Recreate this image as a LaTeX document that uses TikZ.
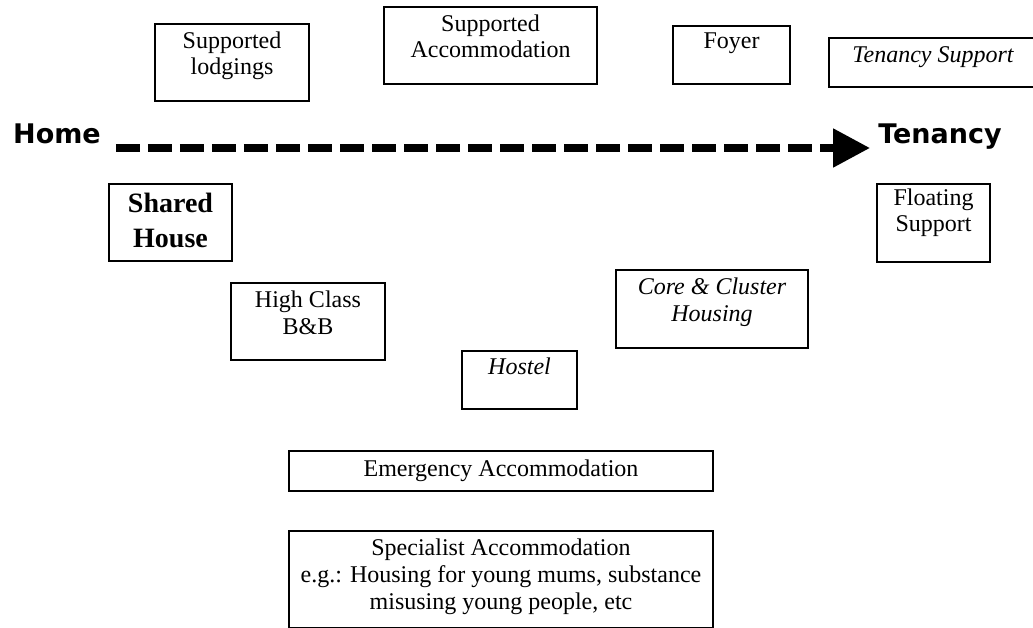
\documentclass[tikz,border=0pt]{standalone}
\usepackage{fontspec}
\setmainfont{Liberation Serif}
\newfontfamily\headfont{DejaVu Sans}
\usepackage{tikz}
\usetikzlibrary{arrows.meta}

\begin{document}
\begin{tikzpicture}[x=1pt,y=-1pt,
   font=\fontsize{24}{26.5}\selectfont,
   box/.style={draw,line width=2pt,inner sep=0pt,anchor=north,align=center},
   endlabel/.style={inner sep=0pt,anchor=base,font=\headfont\bfseries\fontsize{27}{30}\selectfont},
   flow/.style={line width=8pt,dash pattern=on 24pt off 8pt,
                -{Triangle[length=37pt,width=37pt]}}]
  \useasboundingbox (0,0) rectangle (1033,628);
  % the two ends of the pathway
  \node[endlabel] (home) at (57,144) {Home};
  \node[endlabel] (tenancy) at (940,144) {Tenancy};
  \draw[flow] ([shift={(15,4)}]home.base east) -- ([shift={(-8,4)}]tenancy.base west);
  % above the line
  \node[box,minimum width=154pt,text height=51pt,text depth=26pt] (lodgings) at (232,23)
       {Supported\\lodgings};
  \node[box,minimum width=213pt,text height=51pt,text depth=26pt] (suppacc) at (490.5,6)
       {Supported\\Accommodation};
  \node[box,minimum width=117pt,text height=23pt,text depth=35pt] (foyer) at (731.5,25)
       {Foyer};
  \node[box,minimum width=208pt,text height=25pt,text depth=24pt] (tensupport) at (933,37)
       {\itshape Tenancy Support};
  % below the line
  \node[box,minimum width=123pt,text height=64pt,text depth=13pt,
        font=\bfseries\fontsize{28}{35}\selectfont] (shared) at (170.5,183)
       {Shared\\House};
  \node[box,minimum width=113pt,text height=48pt,text depth=30pt] (floating) at (933.5,183)
       {Floating\\Support};
  \node[box,minimum width=154pt,text height=51pt,text depth=26pt] (bandb) at (308,282)
       {High Class\\B\&B};
  \node[box,minimum width=192pt,text height=51pt,text depth=27pt] (core) at (712,269)
       {\itshape Core \& Cluster\\\itshape Housing};
  \node[box,minimum width=115pt,text height=23pt,text depth=35pt] (hostel) at (519.5,350)
       {\itshape Hostel};
  \node[box,minimum width=424pt,text height=25pt,text depth=15pt] (emergency) at (501,450)
       {Emergency Accommodation};
  \node[box,minimum width=424pt,text height=78pt,text depth=19pt,
        font=\fontsize{24}{27}\selectfont] (specialist) at (501,530)
       {Specialist Accommodation\\e.g.: Housing for young mums, substance\\misusing young people, etc};
\end{tikzpicture}
\end{document}
